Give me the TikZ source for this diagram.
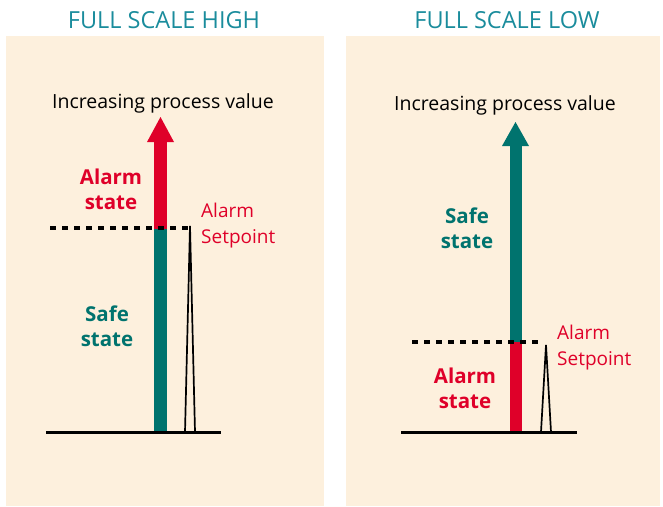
\documentclass[tikz,border=0pt]{standalone}
\usepackage{fontspec}
\setmainfont{Open Sans}
\definecolor{bg}{HTML}{FDF0DD}
\definecolor{alarmred}{HTML}{DF0029}
\definecolor{safeteal}{HTML}{00736E}
\definecolor{titleteal}{HTML}{1A8C9C}
\tikzset{
  panel/.style={fill=bg, draw=none},
  titletext/.style={text=titleteal, font=\fontsize{23.5}{26}\selectfont, inner sep=0pt},
  axislabel/.style={text=black, font=\fontsize{19.5}{22}\selectfont, inner sep=0pt},
  statelabel/.style={font=\bfseries\fontsize{20.5}{25}\selectfont, align=center, inner sep=0pt},
  setlabel/.style={text=alarmred, font=\fontsize{19}{26}\selectfont, align=left, inner sep=0pt, anchor=west},
  baseline/.style={line width=3pt, black},
  dashline/.style={line width=3.6pt, black, dash pattern=on 6pt off 6pt},
  spike/.style={line width=1.7pt, black, line join=miter},
}
\begin{document}
\begin{tikzpicture}[x=1pt,y=-1pt]
\useasboundingbox (0,0) rectangle (663,506);
% panels
\fill[panel] (6,36) rectangle (324,506);
\fill[panel] (346,36) rectangle (660,506);
% titles
\node[titletext] (t1) at (164,20) {FULL SCALE HIGH};
\node[titletext] (t2) at (507,20) {FULL SCALE LOW};
% ---------- left panel ----------
\node[axislabel] (inc1) at (163,103) {Increasing process value};
\fill[safeteal] (154,229) rectangle (167,432);
\fill[alarmred] (154,229) rectangle (167,141);
\fill[alarmred] (147,142) -- (160.5,117) -- (174,142) -- cycle;
\coordinate (d1a) at (50,228);
\coordinate (d1b) at (192,228);
\draw[dashline] (d1a) -- (d1b);
\coordinate (b1a) at (46,432);
\coordinate (b1b) at (221,432);
\coordinate (s1l) at (185,432);
\coordinate (s1t) at (190,226);
\coordinate (s1r) at (195,432);
\draw[spike] (s1l) -- (s1t) -- (s1r);
\draw[baseline] (b1a) -- (b1b);
\node[statelabel, text=alarmred] (al1) at (111,189) {Alarm\\state};
\node[statelabel, text=safeteal] (sf1) at (107,326) {Safe\\state};
\node[setlabel] (sp1) at (201,226) {Alarm\\Setpoint};
% ---------- right panel ----------
\node[axislabel] (inc2) at (505,105) {Increasing process value};
\fill[alarmred] (510,342) rectangle (522,432);
\fill[safeteal] (510,342) rectangle (522,145);
\fill[safeteal] (502,146) -- (515.5,122) -- (529,146) -- cycle;
\coordinate (d2a) at (412,342);
\coordinate (d2b) at (538,342);
\draw[dashline] (d2a) -- (d2b);
\coordinate (b2a) at (401,432);
\coordinate (b2b) at (577,432);
\coordinate (s2l) at (541,432);
\coordinate (s2t) at (546,345);
\coordinate (s2r) at (551,432);
\draw[spike] (s2l) -- (s2t) -- (s2r);
\draw[baseline] (b2a) -- (b2b);
\node[statelabel, text=alarmred] (al2) at (465,388) {Alarm\\state};
\node[statelabel, text=safeteal] (sf2) at (467,228) {Safe\\state};
\node[setlabel] (sp2) at (557,348) {Alarm\\Setpoint};
\end{tikzpicture}
\end{document}
